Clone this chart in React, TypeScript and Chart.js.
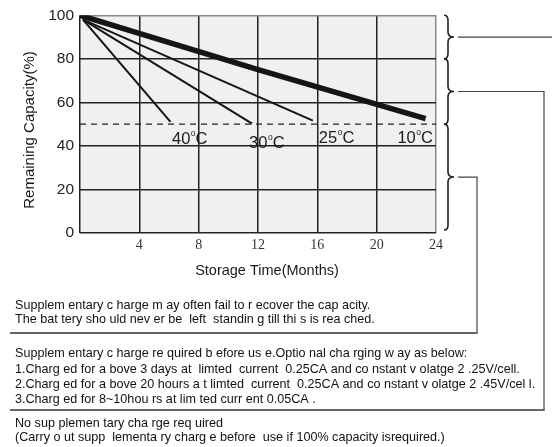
import React, { useEffect, useRef } from "react";
import { Chart, registerables } from "chart.js";
Chart.register(...registerables);

// ---- data ----
const monthTicks = [0, 4, 8, 12, 16, 20, 24];
const capacityTicks = [0, 20, 40, 60, 80, 100];
const series10X = [0, 12, 23.3];
const series10Y = [100, 75, 52.5];
const series25X = [0.2, 15.7];
const series25Y = [98, 51.6];
const series30X = [0.2, 11.6];
const series30Y = [98, 50.2];
const series40X = [0.2, 6.1];
const series40Y = [98, 51];
const thresholdX = [0, 24];
const thresholdY = [50, 50];
const tempNames = ["40", "30", "25", "10"];
const tempLabelX = [6.2, 11.4, 16.1, 21.4];
const tempLabelY = [43.2, 41.3, 43.6, 43.6];
const braceTop = [100, 80, 50];
const braceBottom = [80, 50, 1.4];
const xTitle = "Storage Time(Months)";
const yTitle = "Remaining Capacity(%)";
const block1 = [
  "Supplem entary c harge m ay often fail to r ecover the cap acity.",
  "The bat tery sho uld nev er be  left  standin g till thi s is rea ched.",
];
const block2 = [
  "Supplem entary c harge re quired b efore us e.Optio nal cha rging w ay as below:",
  "1.Charg ed for a bove 3 days at  limted  current  0.25CA and co nstant v olatge 2 .25V/cell.",
  "2.Charg ed for a bove 20 hours a t limted  current  0.25CA and co nstant v olatge 2 .45V/cel l.",
  "3.Charg ed for 8~10hou rs at lim ted curr ent 0.05CA .",
];
const block3 = [
  "No sup plemen tary cha rge req uired",
  "(Carry o ut supp  lementa ry charg e before  use if 100% capacity isrequired.)",
];

const pts = (xs: number[], ys: number[]) => xs.map((x, i) => ({ x, y: ys[i] }));

const SANS = "'Liberation Sans', Arial, sans-serif";
const SERIF = "'Liberation Serif', 'Times New Roman', serif";

const decorPlugin = {
  id: "decor",
  beforeDraw(chart: any) {
    const { ctx, chartArea: a } = chart;
    ctx.save();
    ctx.fillStyle = "#eff0ef";
    ctx.fillRect(a.left, a.top, a.right - a.left, a.bottom - a.top);
    ctx.restore();
  },
  afterDraw(chart: any) {
    const { ctx, chartArea: a, scales } = chart;
    const xs = scales.x;
    const ys = scales.y;
    ctx.save();
    // temperature labels
    ctx.fillStyle = "#1a1a1a";
    ctx.textBaseline = "middle";
    tempNames.forEach((t, i) => {
      let px = xs.getPixelForValue(tempLabelX[i]);
      const py = ys.getPixelForValue(tempLabelY[i]);
      ctx.font = `16.5px ${SANS}`;
      ctx.fillText(t, px, py);
      px += ctx.measureText(t).width + 0.5;
      ctx.font = `8.5px ${SANS}`;
      ctx.fillText("o", px, py - 5);
      px += ctx.measureText("o").width;
      ctx.font = `16.5px ${SANS}`;
      ctx.fillText("C", px, py);
    });
    // axis titles
    ctx.font = `14.5px ${SANS}`;
    ctx.textAlign = "center";
    ctx.fillText(xTitle, 267, 271);
    ctx.save();
    ctx.translate(30, 130);
    ctx.rotate(-Math.PI / 2);
    ctx.font = `15px ${SANS}`;
    ctx.fillText(yTitle, 0, 0);
    ctx.restore();
    // braces
    const stem = a.right + 12;
    ctx.strokeStyle = "#222";
    ctx.lineWidth = 1.6;
    const mids: number[] = [];
    braceTop.forEach((bt, i) => {
      const y1 = ys.getPixelForValue(bt);
      const y2 = ys.getPixelForValue(braceBottom[i]);
      const ym = (y1 + y2) / 2;
      mids.push(ym);
      ctx.beginPath();
      ctx.moveTo(stem - 4, y1);
      ctx.quadraticCurveTo(stem, y1, stem, y1 + 5);
      ctx.lineTo(stem, ym - 5);
      ctx.quadraticCurveTo(stem, ym, stem + 6, ym);
      ctx.quadraticCurveTo(stem, ym, stem, ym + 5);
      ctx.lineTo(stem, y2 - 5);
      ctx.quadraticCurveTo(stem, y2, stem - 4, y2);
      ctx.stroke();
    });
    // connectors
    ctx.lineWidth = 1.2;
    ctx.strokeStyle = "#444";
    const tipX = stem + 10;
    ctx.beginPath();
    ctx.moveTo(tipX, mids[0]);
    ctx.lineTo(552, mids[0]);
    ctx.stroke();
    ctx.beginPath();
    ctx.moveTo(tipX, mids[1]);
    ctx.lineTo(544, mids[1]);
    ctx.lineTo(544, 410);
    ctx.stroke();
    ctx.beginPath();
    ctx.moveTo(tipX, mids[2]);
    ctx.lineTo(477, mids[2]);
    ctx.lineTo(477, 333);
    ctx.stroke();
    // box bottoms
    ctx.strokeStyle = "#666";
    ctx.lineWidth = 2;
    ctx.beginPath();
    ctx.moveTo(10, 333);
    ctx.lineTo(477.6, 333);
    ctx.stroke();
    ctx.beginPath();
    ctx.moveTo(10, 410);
    ctx.lineTo(544.6, 410);
    ctx.stroke();
    // text blocks
    ctx.textAlign = "left";
    ctx.fillStyle = "#111";
    ctx.font = `12.6px ${SANS}`;
    const ys1 = [306, 320];
    const ys2 = [354, 369.5, 385, 400];
    const ys3 = [424, 438];
    block1.forEach((t, i) => ctx.fillText(t, 15, ys1[i]));
    block2.forEach((t, i) => ctx.fillText(t, 15, ys2[i]));
    block3.forEach((t, i) => ctx.fillText(t, 15, ys3[i]));
    ctx.restore();
  },
};

export default function App() {
  const ref = useRef<HTMLCanvasElement>(null);
  useEffect(() => {
    if (!ref.current) return;
    const lineColor = "#151515";
    const chart = new Chart(ref.current, {
      type: "line",
      data: {
        datasets: [
          { data: pts(series10X, series10Y), borderColor: lineColor, borderWidth: 5.5, pointRadius: 0 },
          { data: pts(series25X, series25Y), borderColor: lineColor, borderWidth: 2, pointRadius: 0 },
          { data: pts(series30X, series30Y), borderColor: lineColor, borderWidth: 2, pointRadius: 0 },
          { data: pts(series40X, series40Y), borderColor: lineColor, borderWidth: 2, pointRadius: 0 },
          {
            data: pts(thresholdX, thresholdY),
            borderColor: "#222",
            borderWidth: 1.3,
            borderDash: [6, 5],
            pointRadius: 0,
          },
        ],
      },
      options: {
        responsive: false,
        animation: false,
        layout: { padding: { left: 0, top: 15, right: 116, bottom: 164 } },
        plugins: { legend: { display: false }, tooltip: { enabled: false } },
        scales: {
          x: {
            type: "linear",
            min: monthTicks[0],
            max: monthTicks[monthTicks.length - 1],
            afterFit: (s: any) => {
              s.height = 50;
            },
            afterBuildTicks: (s: any) => {
              s.ticks = monthTicks.map((v) => ({ value: v }));
            },
            ticks: {
              padding: 4,
              color: "#333",
              font: { family: SERIF, size: 14 },
              callback: (v: any) => (v === 0 ? "" : String(v)),
              maxRotation: 0,
            },
            grid: {
              drawTicks: false,
              lineWidth: 1.5,
              color: (c: any) => (c.tick && c.tick.value === 24 ? "#888" : "#222"),
            },
            border: { display: false },
          },
          y: {
            type: "linear",
            min: capacityTicks[0],
            max: capacityTicks[capacityTicks.length - 1],
            afterFit: (s: any) => {
              s.width = 80;
            },
            afterBuildTicks: (s: any) => {
              s.ticks = capacityTicks.map((v) => ({ value: v }));
            },
            ticks: {
              padding: 6,
              color: "#222",
              font: { family: SANS, size: 15.5 },
            },
            grid: {
              drawTicks: false,
              lineWidth: 1.5,
              color: (c: any) => (c.tick && c.tick.value === 100 ? "#888" : "#222"),
            },
            border: { display: false },
          },
        },
      },
      plugins: [decorPlugin],
    } as any);
    return () => chart.destroy();
  }, []);
  return (
    <div style={{ position: "absolute", left: 0, top: 0, width: 552, height: 447, background: "#fff" }}>
      <canvas ref={ref} width={552} height={447} style={{ width: 552, height: 447, display: "block" }} />
    </div>
  );
}
